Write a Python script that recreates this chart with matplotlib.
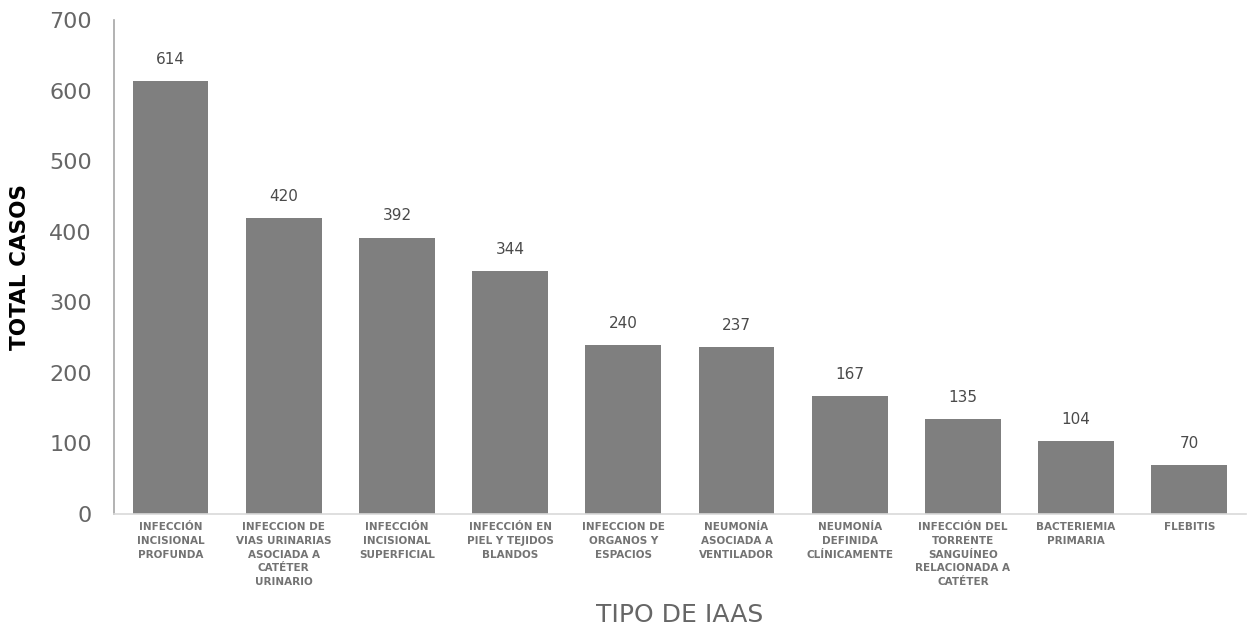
import matplotlib.pyplot as plt

categorias = [
    'INFECCIÓN\nINCISIONAL\nPROFUNDA',
    'INFECCION DE\nVIAS URINARIAS\nASOCIADA A\nCATÉTER\nURINARIO',
    'INFECCIÓN\nINCISIONAL\nSUPERFICIAL',
    'INFECCIÓN EN\nPIEL Y TEJIDOS\nBLANDOS',
    'INFECCION DE\nORGANOS Y\nESPACIOS',
    'NEUMONÍA\nASOCIADA A\nVENTILADOR',
    'NEUMONÍA\nDEFINIDA\nCLÍNICAMENTE',
    'INFECCIÓN DEL\nTORRENTE\nSANGUÍNEO\nRELACIONADA A\nCATÉTER',
    'BACTERIEMIA\nPRIMARIA',
    'FLEBITIS',
]
casos = [614, 420, 392, 344, 240, 237, 167, 135, 104, 70]

plt.rcParams['font.family'] = ['DejaVu Sans']

fig = plt.figure(figsize=(12.48, 6.33), dpi=100)
ax = fig.add_axes([0.0913, 0.188, 0.907, 0.780])

x = range(len(casos))
ax.bar(x, casos, width=0.67, color='#7f7f7f')

for xi, v in zip(x, casos):
    ax.text(xi, v + 20, str(v), ha='center', va='bottom', fontsize=11, color='#4a4a4a')

ax.set_xlim(-0.5, len(casos) - 0.5)
ax.set_ylim(0, 700)
ax.set_yticks(range(0, 701, 100))
ax.tick_params(axis='y', length=0, pad=16, labelsize=16, labelcolor='#666666')
ax.tick_params(axis='x', length=0, pad=6)
ax.set_xticks(list(x))
ax.set_xticklabels(categorias, fontsize=7.5, fontweight='bold', color='#737373', linespacing=1.45)

for s in ['top', 'right']:
    ax.spines[s].set_visible(False)
ax.spines['left'].set_color('#a6a6a6')
ax.spines['bottom'].set_color('#d9d9d9')
ax.spines['left'].set_linewidth(1.2)
ax.spines['bottom'].set_linewidth(1.2)

ax.set_ylabel('TOTAL CASOS', fontsize=15.5, fontweight='bold', color='black', labelpad=14)
ax.set_xlabel('TIPO DE IAAS', fontsize=18, color='#666666', labelpad=12)

fig.savefig('out.png', dpi=100)
